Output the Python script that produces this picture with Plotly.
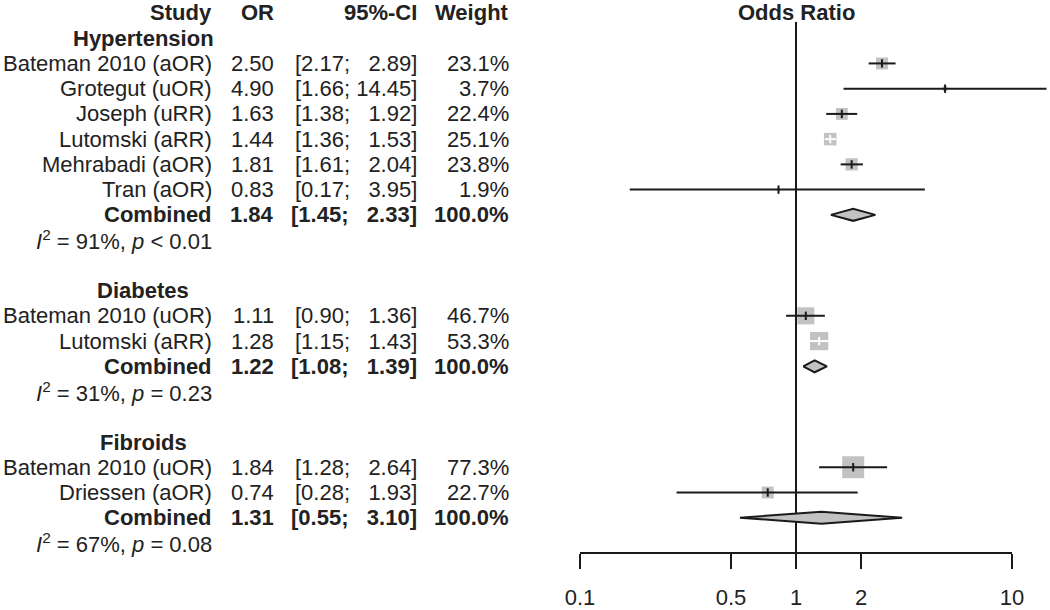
import math
import plotly.graph_objects as go

# ---------------- data ----------------
groups = ["Hypertension", "Diabetes", "Fibroids"]
study_names = [
    ["Bateman 2010 (aOR)", "Grotegut (uOR)", "Joseph (uRR)", "Lutomski (aRR)", "Mehrabadi (aOR)", "Tran (aOR)"],
    ["Bateman 2010 (uOR)", "Lutomski (aRR)"],
    ["Bateman 2010 (uOR)", "Driessen (aOR)"],
]
study_or = [[2.50, 4.90, 1.63, 1.44, 1.81, 0.83], [1.11, 1.28], [1.84, 0.74]]
study_lo = [[2.17, 1.66, 1.38, 1.36, 1.61, 0.17], [0.90, 1.15], [1.28, 0.28]]
study_hi = [[2.89, 14.45, 1.92, 1.53, 2.04, 3.95], [1.36, 1.43], [2.64, 1.93]]
study_weight = [[23.1, 3.7, 22.4, 25.1, 23.8, 1.9], [46.7, 53.3], [77.3, 22.7]]
combined_or = [1.84, 1.22, 1.31]
combined_lo = [1.45, 1.08, 0.55]
combined_hi = [2.33, 1.39, 3.10]
i2_values = [91, 31, 67]
p_texts = ["< 0.01", "= 0.23", "= 0.08"]
tick_values = [0.1, 0.5, 1, 2, 10]
tick_labels = ["0.1", "0.5", "1", "2", "10"]

# ---------------- layout constants ----------------
W, H = 1050, 610
ROW0, ROWH = 13.0, 25.33          # pixel y of row 0 and row height
AXIS_Y = 555                       # pixel y of the x axis line
PX_DECADE = 216.0                  # pixels per decade on the OR axis
X01 = 580.0                        # pixel x of OR = 0.1
FONT = "Liberation Sans, Arial, sans-serif"
FS = 22
TXT = "#222222"
BOX = "#c2c2c2"
LINE = "#1a1a1a"

xr = [-1 - X01 / PX_DECADE, -1 + (W - X01) / PX_DECADE]
k_top = -ROW0 / ROWH
k_bot = (AXIS_Y - ROW0) / ROWH

col_study = 213 / W
col_group = 143 / W
col_or = 275 / W
col_ci = 418 / W
col_w = 510 / W

NB = "\u00a0"


def fmt_ci(lo, hi, bold=False):
    pad = NB * 2 if hi < 10 else ""
    s = f"[{lo:.2f};{NB}{pad}{hi:.2f}]"
    return f"<b>{s}</b>" if bold else s


annotations = []


def add_text(text, xpos, row, anchor="right", bold=False):
    annotations.append(dict(
        x=xpos, y=row, xref="paper", yref="y", text=(f"<b>{text}</b>" if bold else text),
        showarrow=False, xanchor=anchor, yanchor="middle", borderpad=0,
        font=dict(family=FONT, size=FS, color=TXT),
    ))


# header
add_text("Study", col_study, 0, bold=True)
add_text("OR", col_or, 0, bold=True)
add_text("95%-CI", col_ci, 0, bold=True)
add_text("Weight", col_w, 0, bold=True)
annotations.append(dict(x=math.log10(1), y=0, xref="x", yref="y", text="<b>Odds Ratio</b>", showarrow=False,
                        xanchor="center", yanchor="middle",
                        font=dict(family=FONT, size=FS, color=TXT)))

fig = go.Figure()

row = 1
for g, name in enumerate(groups):
    add_text(name, col_group, row, anchor="center", bold=True)
    row += 1
    for j, s in enumerate(study_names[g]):
        o, lo, hi, w = study_or[g][j], study_lo[g][j], study_hi[g][j], study_weight[g][j]
        add_text(s, col_study, row)
        add_text(f"{o:.2f}", col_or, row)
        add_text(fmt_ci(lo, hi), col_ci, row)
        add_text(f"{w:.1f}%", col_w, row)
        size = 2.5 * math.sqrt(w)
        ci_px = (math.log10(hi) - math.log10(lo)) * PX_DECADE
        line_col = "white" if ci_px <= size + 6 else LINE
        # box
        fig.add_trace(go.Scatter(x=[o], y=[row], mode="markers",
                                 marker=dict(symbol="square", size=size, color=BOX, line=dict(width=0)),
                                 hoverinfo="skip", showlegend=False))
        # CI line
        fig.add_trace(go.Scatter(x=[lo, hi], y=[row, row], mode="lines",
                                 line=dict(color=line_col, width=2), hoverinfo="skip", showlegend=False))
        # point tick
        fig.add_trace(go.Scatter(x=[o], y=[row], mode="markers",
                                 marker=dict(symbol="line-ns", size=6, line=dict(color=line_col, width=2)),
                                 hoverinfo="skip", showlegend=False))
        row += 1
    # combined
    co, cl, ch = combined_or[g], combined_lo[g], combined_hi[g]
    add_text("Combined", col_study, row, bold=True)
    add_text(f"{co:.2f}", col_or, row, bold=True)
    add_text(fmt_ci(cl, ch, bold=True), col_ci, row)
    add_text("100.0%", col_w, row, bold=True)
    hh = 6.0 / ROWH
    fig.add_trace(go.Scatter(x=[cl, co, ch, co, cl], y=[row, row - hh, row, row + hh, row],
                             mode="lines", fill="toself", fillcolor=BOX,
                             line=dict(color=LINE, width=2), hoverinfo="skip", showlegend=False))
    row += 1
    add_text(f"<i>I</i><sup>2</sup> = {i2_values[g]}%, <i>p</i> {p_texts[g].replace('<', '&lt;')}",
             col_study, row)
    row += 2

shapes = [
    # vertical reference line at OR = 1
    dict(type="line", xref="x", yref="paper", x0=1, x1=1, y0=0, y1=1 - 22 / AXIS_Y,
         line=dict(color=LINE, width=2), layer="below"),
    # x axis line
    dict(type="line", xref="x", yref="paper", x0=tick_values[0], x1=tick_values[-1], y0=0, y1=0,
         line=dict(color=LINE, width=2)),
]

fig.update_layout(
    width=W, height=H,
    margin=dict(l=0, r=0, t=0, b=H - AXIS_Y),
    paper_bgcolor="white", plot_bgcolor="white",
    showlegend=False,
    annotations=annotations,
    shapes=shapes,
    xaxis=dict(type="log", range=xr, showgrid=False, zeroline=False, showline=False,
               tickmode="array", tickvals=tick_values, ticktext=tick_labels,
               ticks="outside", ticklen=15, tickwidth=2, tickcolor=LINE, ticklabelstandoff=10,
               tickfont=dict(family=FONT, size=FS, color=TXT), fixedrange=True),
    yaxis=dict(range=[k_bot, k_top], showgrid=False, zeroline=False, showline=False,
               showticklabels=False, ticks="", fixedrange=True),
)

fig.write_html("out.html", config={"displayModeBar": False},
               post_script="document.body.style.margin='0px';")
